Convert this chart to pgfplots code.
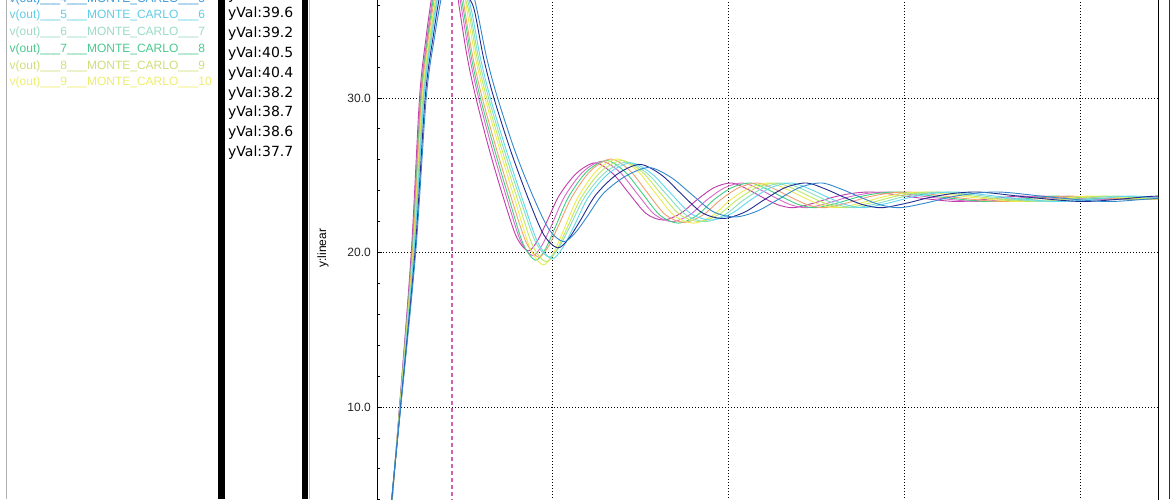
\documentclass[border=0pt]{standalone}
\usepackage{fontspec}
\setmainfont{Liberation Sans}
\newfontfamily\dejavu{DejaVu Sans}
\usepackage{pgfplots}
\pgfplotsset{compat=1.18}

% run colours
\definecolor{cA}{HTML}{C03CA8}
\definecolor{cB}{HTML}{D868C8}
\definecolor{cC}{HTML}{40D080}
\definecolor{cD}{HTML}{F0A070}
\definecolor{cE}{HTML}{ECEC50}
\definecolor{cF}{HTML}{C0E860}
\definecolor{cG}{HTML}{88E0C0}
\definecolor{cH}{HTML}{60D8F0}
\definecolor{cI}{HTML}{202C90}
\definecolor{cJ}{HTML}{3388CC}
% legend text colours
\definecolor{lg4}{HTML}{3E9AD8}
\definecolor{lg5}{HTML}{62CDE6}
\definecolor{lg6}{HTML}{9BDCC4}
\definecolor{lg7}{HTML}{4CC98E}
\definecolor{lg8}{HTML}{D2DE7A}
\definecolor{lg9}{HTML}{EEEE6E}
\definecolor{curs}{HTML}{D060B0}

\pgfplotsset{
  mc/.style={line width=0.9pt, smooth},
}

\begin{document}
\begin{tikzpicture}[x=1pt,y=1pt]
\useasboundingbox (0,0) rectangle (1172,499);
\clip (0,0) rectangle (1172,499);
\fill[white] (0,0) rectangle (1172,499);

% side panels
\draw[color=black!30, line width=1pt] (6.5,0) -- (6.5,499);
\fill[black] (218,0) rectangle (225.3,499);
\fill[black] (301.8,0) rectangle (308.2,499);
\draw[color=red!35, line width=1pt] (309.2,0) -- (309.2,499);
\draw[color=red!60!black, line width=1.4pt] (1169.3,0) -- (1169.3,499);

% legend entries (top of the list is cut off)
\begin{scope}[every node/.style={anchor=base west, inner sep=0pt, font=\fontsize{12}{14}\selectfont}]
\node[text=lg4] at (9.5,496.7) {v(out)\_\_\_4\_\_\_MONTE\_CARLO\_\_\_5};
\node[text=lg5] at (9.5,480.0) {v(out)\_\_\_5\_\_\_MONTE\_CARLO\_\_\_6};
\node[text=lg6] at (9.5,463.3) {v(out)\_\_\_6\_\_\_MONTE\_CARLO\_\_\_7};
\node[text=lg7] at (9.5,446.6) {v(out)\_\_\_7\_\_\_MONTE\_CARLO\_\_\_8};
\node[text=lg8] at (9.5,429.9) {v(out)\_\_\_8\_\_\_MONTE\_CARLO\_\_\_9};
\node[text=lg9] at (9.5,413.2) {v(out)\_\_\_9\_\_\_MONTE\_CARLO\_\_\_10};
\end{scope}

% cursor values
\begin{scope}[every node/.style={anchor=base west, inner sep=0pt, font=\dejavu\fontsize{14}{16}\selectfont}]
\node at (228,499.5) {yVal:39.9};
\node at (228,481.0) {yVal:39.6};
\node at (228,461.2) {yVal:39.2};
\node at (228,441.4) {yVal:40.5};
\node at (228,421.6) {yVal:40.4};
\node at (228,401.8) {yVal:38.2};
\node at (228,382.0) {yVal:38.7};
\node at (228,362.2) {yVal:38.6};
\node at (228,342.4) {yVal:37.7};
\end{scope}

\begin{axis}[
    at={(377pt,-31.6pt)}, anchor=south west,
    scale only axis, width=781pt, height=556.2pt,
    xmin=0, xmax=4.443,
    ymin=2, ymax=38,
    xtick={1,2,3,4}, xticklabels={},
    xtick style={draw=none},
    ytick={10,20,30},
    minor ytick={2,4,...,38},
    ytick pos=left,
    tick align=inside,
    major tick length=5pt, minor tick length=3pt,
    tick style={black, line width=0.8pt},
    xmajorgrids=true, ymajorgrids=true,
    grid style={black, line width=0.8pt, dash pattern=on 0.8pt off 2.2pt},
    axis line style={black, line width=1pt},
    yticklabel style={font=\fontsize{12}{14}\selectfont, text=black!85,
        anchor=east, inner sep=0pt, xshift=-6pt,
        /pgf/number format/.cd, fixed, fixed zerofill, precision=1,
        assume math mode=true},
    ylabel={y:linear},
    ylabel style={at={(axis description cs:-0.0691,0.508)}, anchor=center,
        font=\fontsize{12}{14}\selectfont},
]

% cursor at the first peak
\addplot[color=curs, line width=1.2pt, dash pattern=on 4pt off 3pt]
  coordinates {(0.4266,2) (0.4266,38)};

% v(out), Monte Carlo runs
\addplot[mc, cA] coordinates {
(0.064,0) (0.087,4) (0.128,10) (0.195,20) (0.242,30) (0.28,34.0) (0.316,36.9) (0.352,39.1) (0.393,39.9) (0.429,39.0) (0.469,35.8) (0.514,32.6) (0.563,30) (0.64,26.6) (0.721,23.47) (0.793,21.02) (0.859,20.1) (0.91,20.71) (0.964,21.94) (1.036,23.68) (1.135,25.13) (1.242,25.8) (1.342,25.1) (1.432,23.85) (1.531,22.52) (1.63,22.1) (1.729,22.54) (1.819,23.4) (1.918,24.2) (2.017,24.5) (2.107,24.1) (2.188,23.6) (2.278,23.1) (2.368,22.9) (2.485,23.2) (2.602,23.6) (2.719,23.85) (2.836,23.9) (3.07,23.55) (3.295,23.3) (3.475,23.45) (3.655,23.65) (3.88,23.5) (4.15,23.45) (4.375,23.55) (4.6,23.45)
};
\addplot[mc, cB] coordinates {
(0.063,0) (0.086,4) (0.129,10) (0.198,20) (0.247,30) (0.286,34.0) (0.323,36.9) (0.36,38.8) (0.402,39.6) (0.439,38.7) (0.481,35.8) (0.528,32.6) (0.578,30) (0.658,26.6) (0.742,23.38) (0.816,20.78) (0.884,19.8) (0.937,20.44) (0.993,21.76) (1.067,23.62) (1.17,25.2) (1.28,25.9) (1.383,25.18) (1.476,23.87) (1.579,22.46) (1.681,22.0) (1.783,22.47) (1.876,23.4) (1.979,24.2) (2.081,24.5) (2.174,24.1) (2.258,23.6) (2.351,23.1) (2.444,22.9) (2.565,23.2) (2.685,23.6) (2.806,23.85) (2.927,23.9) (3.169,23.55) (3.402,23.3) (3.588,23.45) (3.774,23.65) (4.006,23.5) (4.285,23.45) (4.518,23.55) (4.75,23.45)
};
\addplot[mc, cC] coordinates {
(0.062,0) (0.086,4) (0.129,10) (0.2,20) (0.25,30) (0.29,34.0) (0.328,36.9) (0.366,38.4) (0.409,39.2) (0.447,38.3) (0.49,35.8) (0.537,32.6) (0.588,30) (0.67,26.6) (0.756,23.29) (0.832,20.54) (0.901,19.5) (0.955,20.17) (1.012,21.58) (1.088,23.56) (1.193,25.23) (1.306,25.95) (1.411,25.22) (1.506,23.88) (1.611,22.4) (1.715,21.9) (1.82,22.4) (1.915,23.4) (2.019,24.2) (2.124,24.5) (2.219,24.1) (2.304,23.6) (2.399,23.1) (2.494,22.9) (2.618,23.2) (2.741,23.6) (2.865,23.85) (2.988,23.9) (3.235,23.55) (3.473,23.3) (3.663,23.45) (3.853,23.65) (4.09,23.5) (4.375,23.45) (4.613,23.55)
};
\addplot[mc, cD] coordinates {
(0.061,0) (0.085,4) (0.13,10) (0.202,20) (0.253,30) (0.294,34.0) (0.333,36.9) (0.372,39.7) (0.415,40.5) (0.454,39.6) (0.498,35.8) (0.546,32.6) (0.599,30) (0.682,26.6) (0.769,23.35) (0.847,20.7) (0.918,19.7) (0.973,20.35) (1.031,21.7) (1.109,23.6) (1.216,25.3) (1.331,26.05) (1.439,25.3) (1.536,23.9) (1.642,22.43) (1.749,21.95) (1.856,22.44) (1.953,23.4) (2.059,24.2) (2.166,24.5) (2.263,24.1) (2.35,23.6) (2.447,23.1) (2.544,22.9) (2.671,23.2) (2.797,23.6) (2.923,23.85) (3.049,23.9) (3.301,23.55) (3.544,23.3) (3.738,23.45) (3.932,23.65) (4.174,23.5) (4.465,23.45) (4.708,23.55)
};
\addplot[mc, cE] coordinates {
(0.06,0) (0.085,4) (0.131,10) (0.205,20) (0.258,30) (0.3,34.0) (0.34,36.9) (0.38,39.6) (0.425,40.4) (0.465,39.5) (0.51,35.8) (0.56,32.6) (0.614,30) (0.7,26.6) (0.79,23.2) (0.87,20.3) (0.943,19.2) (1.0,19.9) (1.06,21.4) (1.14,23.5) (1.25,25.3) (1.369,26.05) (1.48,25.3) (1.58,23.9) (1.69,22.4) (1.8,21.9) (1.91,22.4) (2.01,23.4) (2.12,24.2) (2.23,24.5) (2.33,24.1) (2.42,23.6) (2.52,23.1) (2.62,22.9) (2.75,23.2) (2.88,23.6) (3.01,23.85) (3.14,23.9) (3.4,23.55) (3.65,23.3) (3.85,23.45) (4.05,23.65) (4.3,23.5) (4.6,23.45)
};
\addplot[mc, cF] coordinates {
(0.059,0) (0.085,4) (0.132,10) (0.207,20) (0.261,30) (0.304,34.0) (0.345,36.9) (0.386,37.4) (0.432,38.2) (0.472,37.3) (0.518,35.8) (0.569,32.6) (0.624,30) (0.712,26.6) (0.804,23.26) (0.885,20.46) (0.96,19.4) (1.018,20.08) (1.079,21.52) (1.161,23.54) (1.273,25.23) (1.394,25.95) (1.508,25.22) (1.61,23.88) (1.722,22.46) (1.834,22.0) (1.946,22.47) (2.048,23.4) (2.16,24.2) (2.273,24.5) (2.375,24.1) (2.466,23.6) (2.568,23.1) (2.67,22.9) (2.803,23.2) (2.936,23.6) (3.068,23.85) (3.201,23.9) (3.466,23.55) (3.721,23.3) (3.925,23.45) (4.129,23.65) (4.384,23.5) (4.69,23.45)
};
\addplot[mc, cG] coordinates {
(0.058,0) (0.084,4) (0.132,10) (0.209,20) (0.264,30) (0.308,34.0) (0.35,36.9) (0.391,37.9) (0.438,38.7) (0.48,37.8) (0.526,35.8) (0.578,32.6) (0.635,30) (0.724,26.6) (0.818,23.35) (0.901,20.7) (0.977,19.7) (1.036,20.35) (1.098,21.7) (1.182,23.6) (1.296,25.16) (1.42,25.85) (1.535,25.14) (1.639,23.86) (1.754,22.46) (1.868,22.0) (1.982,22.47) (2.086,23.4) (2.201,24.2) (2.315,24.5) (2.419,24.1) (2.513,23.6) (2.617,23.1) (2.721,22.9) (2.856,23.2) (2.991,23.6) (3.126,23.85) (3.262,23.9) (3.532,23.55) (3.792,23.3) (4.0,23.45) (4.208,23.65) (4.468,23.5) (4.78,23.45)
};
\addplot[mc, cH] coordinates {
(0.058,0) (0.084,4) (0.133,10) (0.211,20) (0.267,30) (0.312,34.0) (0.354,36.9) (0.397,37.8) (0.445,38.6) (0.487,37.7) (0.535,35.8) (0.588,32.6) (0.645,30) (0.736,26.6) (0.831,23.32) (0.916,20.62) (0.994,19.6) (1.054,20.26) (1.118,21.64) (1.202,23.58) (1.319,25.13) (1.445,25.8) (1.563,25.1) (1.669,23.85) (1.785,22.52) (1.902,22.1) (2.019,22.54) (2.125,23.4) (2.241,24.2) (2.358,24.5) (2.464,24.1) (2.559,23.6) (2.665,23.1) (2.771,22.9) (2.909,23.2) (3.047,23.6) (3.185,23.85) (3.322,23.9) (3.598,23.55) (3.863,23.3) (4.075,23.45) (4.287,23.65) (4.552,23.5)
};
\addplot[mc, cI] coordinates {
(0.056,0) (0.084,4) (0.134,10) (0.216,20) (0.274,30) (0.32,34.0) (0.364,36.9) (0.408,36.9) (0.458,37.7) (0.502,36.8) (0.551,35.8) (0.606,32.6) (0.665,30) (0.76,26.6) (0.859,23.53) (0.947,21.18) (1.027,20.3) (1.09,20.89) (1.156,22.06) (1.244,23.72) (1.365,25.06) (1.496,25.7) (1.618,25.02) (1.728,23.83) (1.849,22.58) (1.97,22.2) (2.091,22.61) (2.201,23.4) (2.322,24.2) (2.443,24.5) (2.553,24.1) (2.652,23.6) (2.762,23.1) (2.872,22.9) (3.015,23.2) (3.158,23.6) (3.301,23.85) (3.444,23.9) (3.73,23.55) (4.005,23.3) (4.225,23.45) (4.445,23.65) (4.72,23.5)
};
\addplot[mc, cJ] coordinates {
(0.054,0) (0.083,4) (0.135,10) (0.22,20) (0.28,30) (0.328,34.0) (0.374,36.9) (0.419,38.2) (0.471,39.0) (0.516,38.1) (0.567,35.8) (0.624,32.6) (0.686,30) (0.784,26.6) (0.887,23.65) (0.978,21.5) (1.061,20.7) (1.126,21.25) (1.194,22.3) (1.286,23.8) (1.411,24.92) (1.547,25.5) (1.673,24.86) (1.787,23.79) (1.913,22.64) (2.038,22.3) (2.163,22.68) (2.277,23.4) (2.403,24.2) (2.528,24.5) (2.642,24.1) (2.745,23.6) (2.859,23.1) (2.973,22.9) (3.121,23.2) (3.269,23.6) (3.417,23.85) (3.566,23.9) (3.862,23.55) (4.147,23.3) (4.375,23.45) (4.603,23.65)
};

\end{axis}
\end{tikzpicture}
\end{document}
